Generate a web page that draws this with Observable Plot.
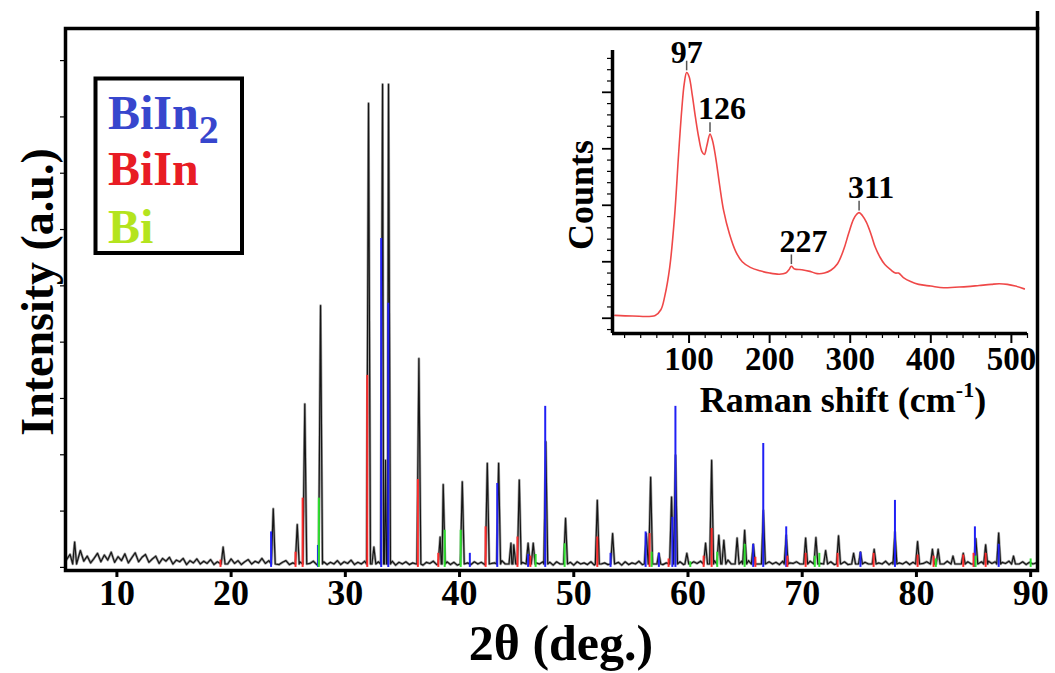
<!DOCTYPE html>
<html><head><meta charset="utf-8">
<script src="https://cdn.jsdelivr.net/npm/d3@7"></script>
<script src="https://cdn.jsdelivr.net/npm/@observablehq/plot@0.6"></script>
<style>
body{margin:0;background:#fff;}
#wrap{position:relative;width:1055px;height:673px;overflow:hidden;}
#wrap > *{position:absolute;}
#wrap svg text{font-family:"Liberation Serif","Times New Roman",serif;font-weight:bold;}
</style></head><body><div id="wrap"></div>
<script>
// ---------- XRD data (2θ in degrees, intensity in a.u.) ----------
const noiseStart = 5.6, noiseStep = 0.3;
const noiseValues = [
1.4,2.3,0.9,1.8,3.0,1.1,2.0,0.8,1.6,2.5,1.0,2.2,1.3,2.7,0.9,1.9,1.2,2.4,0.8,1.7,
2.6,1.0,1.8,2.3,0.9,1.5,2.0,0.7,1.6,1.1,1.8,0.6,1.3,1.0,1.6,0.5,1.2,0.8,1.5,0.6,
1.1,0.7,1.4,0.5,1.0,0.8,1.3,0.6,1.5,0.7,1.2,0.5,1.0,1.4,0.6,1.1,0.8,1.6,0.7,1.2,
0.6,1.1,0.5,0.9,1.2,0.5,0.8,0.6,1.0,0.4,0.9,0.7,1.1,0.5,0.8,1.0,0.5,0.9,0.6,1.2,
0.5,1.0,0.7,1.3,0.5,0.9,0.6,1.1,0.7,0.9,0.5,1.0,0.6,0.8,0.5,1.1,0.4,0.9,0.6,1.0,
0.5,0.8,0.6,1.0,0.4,0.9,0.7,1.1,0.5,0.8,0.6,1.0,0.5,0.9,0.4,1.1,0.6,0.8,0.5,1.0,
0.6,0.9,0.5,1.0,0.7,0.8,0.5,1.2,0.6,0.9,0.7,1.1,0.5,0.9,0.6,1.0,0.4,0.8,0.6,1.0,
0.5,0.9,0.4,1.0,0.6,0.8,0.5,0.9,0.4,1.0,0.6,0.8,0.5,1.0,0.4,0.9,0.6,0.8,0.5,1.0,
0.6,0.9,0.4,1.0,0.5,0.8,0.6,1.1,0.5,0.9,0.4,0.8,0.6,1.0,0.5,0.8,0.6,0.9,0.5,1.0,
0.5,0.8,0.6,1.0,0.7,1.1,0.6,0.9,0.8,1.2,0.6,1.0,0.7,1.3,0.6,1.0,0.8,1.1,0.6,1.2,
0.7,1.0,0.6,0.9,0.5,1.0,0.6,0.9,0.5,1.1,0.6,0.8,0.7,1.0,0.6,1.2,0.7,1.1,0.6,1.3,
0.7,1.1,0.6,1.0,0.5,0.9,0.6,1.0,0.5,0.8,0.6,1.1,0.5,0.9,0.6,1.0,0.5,0.8,0.6,1.1,
0.5,0.9,0.4,0.8,0.6,1.0,0.5,0.9,0.6,1.1,0.7,1.0,0.6,1.2,0.7,1.0,0.6,1.1,0.5,1.0,
0.6,1.1,0.7,1.0,0.6,1.2,0.7,1.0,0.6,1.1,0.7,1.0,0.6,0.9,0.7,1.1,0.5,0.9,0.6,1.0,
0.5,0.9,0.6,0.8];
const peakPos = [6.3,19.3,23.69,25.79,26.45,27.83,32.03,32.5,33.26,33.52,33.78,36.44,38.3,38.57,40.24,42.43,43.42,44.5,44.75,45.23,
46.0,46.45,47.55,49.28,52.06,53.4,56.35,56.73,57.45,58.56,58.91,59.9,61.54,62.07,62.7,63.14,64.3,64.96,65.72,66.6,
68.6,70.3,71.2,72.05,73.18,74.5,75.1,76.3,78.12,80.1,81.4,81.9,83.2,84.1,85.2,86.06,87.2,88.5];
const peakHeight = [4.5,3.6,10.4,7.6,29.0,46.5,82.4,3.6,85.8,19.0,85.8,37.1,5.4,14.7,15.2,18.5,18.5,4.3,4.0,15.5,
4.3,4.3,22.3,8.7,11.9,6.0,6.0,16.0,2.5,12.5,19.9,2.5,4.3,19.0,5.7,4.8,5.2,6.6,4.1,10.1,
5.7,5.2,5.3,3.0,5.6,2.5,2.7,3.2,6.3,4.6,3.2,3.2,2.0,2.5,5.1,4.0,6.1,2.0];

// reference stick patterns
const biin2Pos = [23.5,27.6,33.14,33.76,40.9,43.3,46.0,47.5,53.22,56.29,57.45,58.63,58.9,65.71,66.59,68.6,75.1,78.12,85.12,87.2];
const biin2Int = [6.3,3.9,58.4,46.9,2.5,14.9,2.3,28.6,2.5,6.3,2.5,8.9,28.6,4.1,22.0,7.2,2.7,11.9,7.2,4.1];
const biinPos = [19.07,25.64,26.26,31.92,36.35,38.14,42.28,45.07,46.2,52.06,56.64,58.3,61.37,62.07,65.9,68.7,70.3,73.1,76.25,80.1,81.5,84.1,85.0,86.06];
const biinInt = [1.3,2.7,12.3,34.1,15.6,2.5,7.2,5.4,2.0,5.4,6.0,1.5,2.0,6.9,1.8,2.0,2.5,2.5,2.5,2.2,2.0,2.2,2.5,2.5];
const biPos = [27.68,38.7,40.1,46.66,49.2,56.82,60.2,62.56,64.96,71.1,71.5,81.7,85.18,90.0];
const biInt = [12.3,6.6,6.6,2.3,4.2,2.7,1.0,2.7,4.1,2.0,2.5,1.5,2.0,1.5];

const xTicks = [10,20,30,40,50,60,70,80,90];
const yTicks = [0,10,20,30,40,50,60,70,80,90];

// ---------- Raman inset data ----------
const ramanShift = [8,30,58,65,70,76,82,87,91,94,97,100,104,108,112,116,119,122,126,129,133,138,143,150,158,166,176,188,200,212,
220,224,227,231,240,250,259,268,276,284,292,298,304,308,311,315,320,326,331,337,343,350,356,360,366,375,385,400,416,430,
445,460,475,485,495,505,516];
const ramanCounts = [0.05,0.04,0.05,0.15,0.4,0.9,1.8,2.9,3.7,4.15,4.35,4.28,3.95,3.55,3.2,2.95,2.9,3.05,3.26,3.15,2.85,2.35,1.9,1.5,1.18,1.0,0.9,0.84,0.8,0.78,
0.8,0.86,0.92,0.87,0.86,0.83,0.79,0.8,0.85,0.96,1.22,1.5,1.75,1.84,1.87,1.82,1.7,1.48,1.26,1.08,0.95,0.86,0.8,0.8,0.72,0.65,0.6,0.57,0.54,0.55,
0.56,0.58,0.6,0.61,0.6,0.57,0.52];
const ramanPeakShift = [97,126,227,311];
const ramanPeakCounts = [4.35,3.26,0.92,1.87];
const ramanTicks = [100,200,300,400,500];
const ramanMinorTicks = [20,40,60,80,120,140,160,180,220,240,260,280,320,340,360,380,420,440,460,480,520];
const countMajorTicks = [0,1,2,3,4];
const countMinorTicks = [-0.2,0.2,0.4,0.6,0.8,1.2,1.4,1.6,1.8,2.2,2.4,2.6,2.8,3.2,3.4,3.6,3.8,4.2,4.4,4.6];

// ---------- build tables ----------
const PW = 0.17, PB = 0.6;
const noisePts = noiseValues.map((v,i)=>({x: noiseStart + i*noiseStep, y: v}))
  .filter(p => !peakPos.some(c => Math.abs(p.x - c) < PW + 0.04));
const peakPts = peakPos.flatMap((c,i)=>[{x:c-PW,y:PB},{x:c,y:peakHeight[i]},{x:c+PW,y:PB}]);
const xrd = [...noisePts, ...peakPts].sort((a,b)=>a.x-b.x);
const sticks = [
  ...biin2Pos.map((x,i)=>({x, y: biin2Int[i], phase:"BiIn2"})),
  ...biinPos.map((x,i)=>({x, y: biinInt[i], phase:"BiIn"})),
  ...biPos.map((x,i)=>({x, y: biInt[i], phase:"Bi"}))
];
const stickColor = {BiIn2:"#2020f5", BiIn:"#ff2a2a", Bi:"#2ee02e"};
const raman = ramanShift.map((x,i)=>({x, y: ramanCounts[i]}));
const ramanPeaks = ramanPeakShift.map((x,i)=>({x, y: ramanPeakCounts[i], label: String(x)}));

const wrap = document.getElementById("wrap");

// ---------- main chart ----------
const main = Plot.plot({
  width: 1055, height: 673,
  marginLeft: 65, marginRight: 18, marginTop: 28, marginBottom: 103,
  x: {domain: [5.5, 90.6], label: null},
  y: {domain: [-0.55, 95.7], label: null},
  style: {background: "transparent"},
  marks: [
    Plot.line(xrd, {x: "x", y: "y", stroke: "#a0a0a0", strokeWidth: 2.6, curve: "linear"}),
    Plot.line(xrd, {x: "x", y: "y", stroke: "#151515", strokeWidth: 1.2, curve: "linear"}),
    Plot.ruleX(sticks, {x: "x", y1: 0, y2: "y", stroke: d => stickColor[d.phase], strokeWidth: 2}),
    Plot.axisY({ticks: yTicks, tickSize: 5, tickFormat: () => "", strokeWidth: 1.2}),
    Plot.axisX({ticks: xTicks, tickSize: 7, tickPadding: 2, strokeWidth: 3, fontSize: 36, label: null}),
    Plot.frame({strokeWidth: 3.5})
  ]
});
main.style.left = "0px"; main.style.top = "0px";
wrap.appendChild(main);

// ---------- inset ----------
const inset = Plot.plot({
  width: 480, height: 390,
  marginLeft: 52, marginRight: 13, marginTop: 10, marginBottom: 97,
  x: {domain: [5, 520], label: null},
  y: {domain: [-0.27, 4.74], label: null},
  style: {background: "transparent", overflow: "visible"},
  marks: [
    Plot.line(raman, {x: "x", y: "y", stroke: "#ef4848", strokeWidth: 1.6, curve: "catmull-rom"}),
    Plot.ruleX(ramanPeaks, {x: "x", y1: d => d.y + 0.03, y2: d => d.y + 0.2, stroke: "#555", strokeWidth: 1.5}),
    Plot.text(ramanPeaks.filter(d => d.x === 97), {x: "x", y: "y", text: "label", dy: -20, fontSize: 32}),
    Plot.text(ramanPeaks.filter(d => d.x !== 97), {x: "x", y: "y", text: "label", dy: -25, dx: 12, fontSize: 32}),
    Plot.axisY({ticks: countMinorTicks, tickSize: 5, tickFormat: () => "", strokeWidth: 1.2}),
    Plot.axisY({ticks: countMajorTicks, tickSize: 10, tickFormat: () => "", strokeWidth: 1.8}),
    Plot.axisX({ticks: ramanMinorTicks, tickSize: 5, tickFormat: () => "", strokeWidth: 1.2}),
    Plot.axisX({ticks: ramanTicks, tickSize: 10, tickPadding: 3, strokeWidth: 2, fontSize: 33, label: null}),
    Plot.ruleX([5], {strokeWidth: 3.5}),
    Plot.ruleY([-0.27], {strokeWidth: 3.5})
  ]
});
inset.style.left = "560px"; inset.style.top = "40px";
wrap.appendChild(inset);

// ---------- overlay: titles and legend ----------
const ov = d3.create("svg").attr("width", 1055).attr("height", 673)
  .style("left","0px").style("top","0px").style("pointer-events","none");
ov.append("line").attr("x1",1037.5).attr("x2",1037.5).attr("y1",11).attr("y2",30)
  .attr("stroke","#000").attr("stroke-width",3.5);
ov.append("text").attr("transform","translate(53,292) rotate(-90)")
  .attr("text-anchor","middle").attr("font-size",46).text("Intensity (a.u.)");
ov.append("text").attr("x",561).attr("y",660).attr("text-anchor","middle")
  .attr("font-size",50).text("2θ (deg.)");
ov.append("text").attr("transform","translate(593,195) rotate(-90)")
  .attr("text-anchor","middle").attr("font-size",36).text("Counts");
const rs = ov.append("text").attr("x",843).attr("y",412).attr("text-anchor","middle").attr("font-size",36);
rs.append("tspan").text("Raman shift (cm");
rs.append("tspan").attr("font-size",22).attr("dy",-15).text("-1");
rs.append("tspan").attr("dy",15).text(")");
// legend
ov.append("rect").attr("x",95.5).attr("y",78.5).attr("width",146.5).attr("height",174.5)
  .attr("fill","none").attr("stroke","#000").attr("stroke-width",4);
const l1 = ov.append("text").attr("x",108).attr("y",129).attr("font-size",48).attr("fill","#3746cd");
l1.append("tspan").text("BiIn");
l1.append("tspan").attr("font-size",40).attr("dy",14).text("2");
ov.append("text").attr("x",108).attr("y",185).attr("font-size",48).attr("fill","#e81c24").text("BiIn");
ov.append("text").attr("x",108).attr("y",243).attr("font-size",48).attr("fill","#b4e41e").text("Bi");
wrap.appendChild(ov.node());
</script></body></html>
